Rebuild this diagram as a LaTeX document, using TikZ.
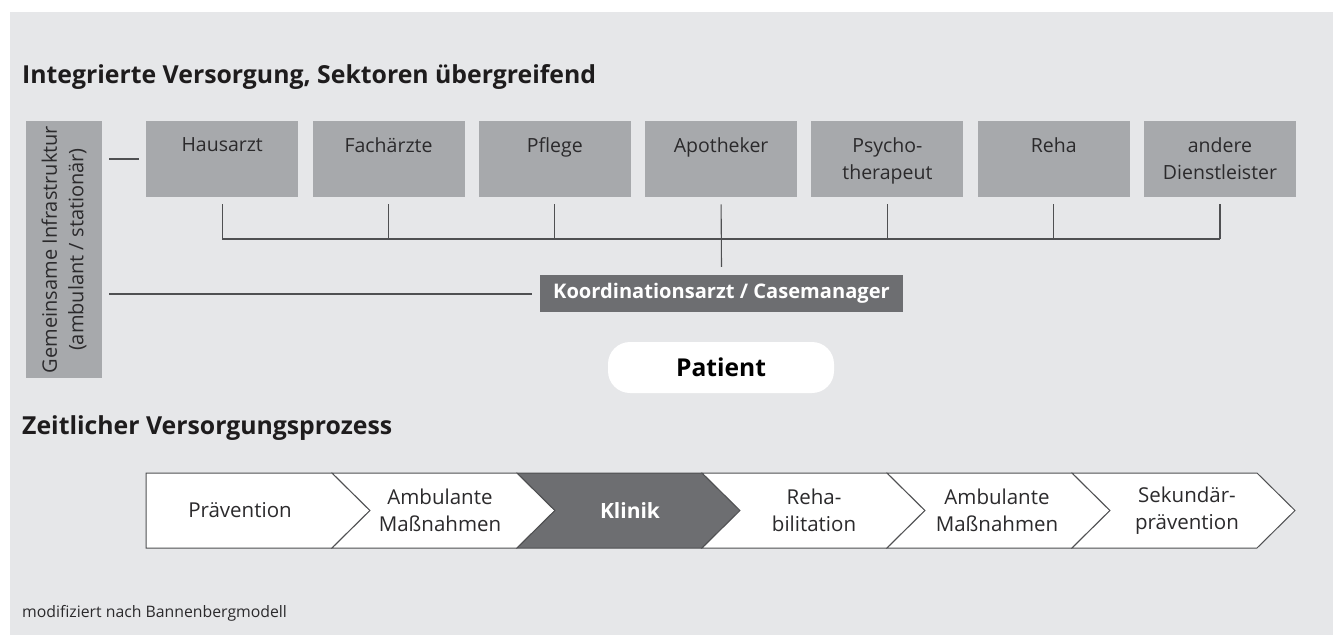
\documentclass[tikz,border=0pt]{standalone}
\usepackage{fontspec}
\setmainfont{Open Sans}
\usetikzlibrary{calc}
\definecolor{bgc}{HTML}{E6E7E9}
\definecolor{boxc}{HTML}{A7A9AC}
\definecolor{darkc}{HTML}{6D6E71}
\definecolor{linec}{HTML}{4F5052}
\definecolor{txtc}{HTML}{2B2A2C}
\definecolor{ttlc}{HTML}{1E1C1D}
\begin{document}
\begin{tikzpicture}[x=1pt,y=-1pt,
  provbox/.style={fill=boxc, draw=none, minimum width=152pt, minimum height=76pt, inner sep=0pt, anchor=north west},
  provlbl/.style={anchor=north, inner sep=0pt, yshift=-16pt, align=center, text=txtc, font=\fontsize{19.5}{27.5}\selectfont},
  conn/.style={draw=linec, line width=1.1pt},
  chev/.style={draw=linec, line width=1pt, fill=white},
  chevtxt/.style={align=center, text=txtc, inner sep=0pt, font=\fontsize{20.5}{27}\selectfont},
  ttl/.style={anchor=base west, inner sep=0pt, text=ttlc, font=\fontsize{24.8}{29}\selectfont\bfseries}
]
\fill[white] (0,0) rectangle (1339,635);
\fill[bgc] (10,12) rectangle (1333,635);
\useasboundingbox (0,0) rectangle (1339,635);

% titles
\node[ttl] (t1) at (22,83) {Integrierte Versorgung, Sektoren übergreifend};
\node[ttl] (t2) at (22,434) {Zeitlicher Versorgungsprozess};

% infrastructure box
\node[fill=boxc, rotate=90, minimum width=257pt, minimum height=76pt, inner sep=0pt, align=center,
      text=txtc, font=\fontsize{20}{26.5}\selectfont] (infra) at (64,249.5)
      {Gemeinsame Infrastruktur\\(ambulant / stationär)};

% provider boxes
\node[provbox, label={[provlbl]north:Hausarzt}] (haus) at (146,121) {};
\node[provbox, label={[provlbl]north:Fachärzte}] (fach) at (312.3,121) {};
\node[provbox, label={[provlbl]north:Pflege}] (pfl) at (478.6,121) {};
\node[provbox, label={[provlbl]north:Apotheker}] (apo) at (644.9,121) {};
\node[provbox, label={[provlbl]north:Psycho-\\therapeut}] (psy) at (811.2,121) {};
\node[provbox, label={[provlbl]north:Reha}] (reha) at (977.5,121) {};
\node[provbox, label={[provlbl]north:andere\\Dienstleister}] (and) at (1143.8,121) {};

% coordinator and patient
\node[fill=darkc, minimum width=363pt, minimum height=37pt, inner sep=0pt, text=white,
      font=\fontsize{20.1}{24}\selectfont\bfseries] (koord) at (721.5,293.5) {Koordinationsarzt / Casemanager};
\node[fill=white, rounded corners=22pt, minimum width=226pt, minimum height=51pt, inner sep=0pt,
      text=black, font=\fontsize{24.6}{28}\selectfont\bfseries] (pat) at (721,367.5) {Patient};

% connectors
\coordinate (hl) at (haus.south |- 0,239);
\coordinate (hr) at (and.south |- 0,239);
\draw[conn] (hl) -- (hr);
\foreach \n in {haus,fach,pfl,psy,reha,and}{
  \draw[conn] ($(\n.south)+(0,7)$) -- (\n.south |- hl);
}
\draw[conn] ($(apo.south)+(0,7)$) -- ($(koord.north)+(0,-8)$);
\coordinate (infr1) at (109,159);
\draw[conn] (infr1) -- ($(haus.west |- infr1)+(-7,0)$);
\coordinate (infr2) at (109,294);
\draw[conn] (infr2) -- ($(koord.west |- infr2)+(-8,0)$);

% process chevrons
\def\ty{473}\def\by{548}\def\my{510.5}
\draw[chev] (146,\ty) -- (332,\ty) -- (370,\my) -- (332,\by) -- (146,\by) -- cycle;
\draw[chev] (332,\ty) -- (517,\ty) -- (555,\my) -- (517,\by) -- (332,\by) -- (370,\my) -- cycle;
\draw[chev, fill=darkc] (517,\ty) -- (702,\ty) -- (740,\my) -- (702,\by) -- (517,\by) -- (555,\my) -- cycle;
\draw[chev] (702,\ty) -- (887,\ty) -- (925,\my) -- (887,\by) -- (702,\by) -- (740,\my) -- cycle;
\draw[chev] (887,\ty) -- (1072,\ty) -- (1110,\my) -- (1072,\by) -- (887,\by) -- (925,\my) -- cycle;
\draw[chev] (1072,\ty) -- (1257,\ty) -- (1295,\my) -- (1257,\by) -- (1072,\by) -- (1110,\my) -- cycle;

\node[chevtxt] (c1) at (240,\my) {Prävention};
\node[chevtxt] (c2) at (440,\my) {Ambulante\\Maßnahmen};
\node[chevtxt, text=white, font=\fontsize{21}{27}\selectfont\bfseries] (c3) at (630,\my) {Klinik};
\node[chevtxt] (c4) at (814,\my) {Reha-\\bilitation};
\node[chevtxt] (c5) at (997,\my) {Ambulante\\Maßnahmen};
\node[chevtxt] (c6) at (1187,\my) {Sekundär-\\prävention};

% footnote
\node[anchor=base west, inner sep=0pt, text=txtc, font=\fontsize{15.8}{18}\selectfont] (foot) at (22,617) {modifiziert nach Bannenbergmodell};
\end{tikzpicture}
\end{document}
